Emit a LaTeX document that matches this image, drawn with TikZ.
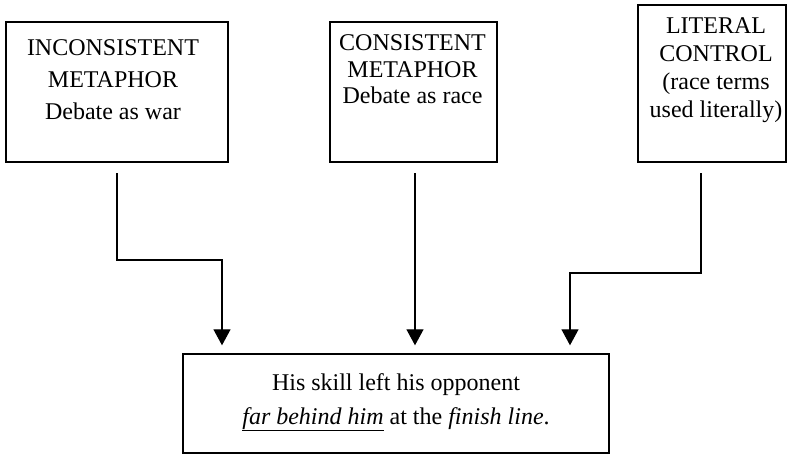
\documentclass[tikz,border=0pt]{standalone}
\usepackage{fontspec}
\setmainfont{Liberation Serif}
\usetikzlibrary{arrows.meta,calc}
\begin{document}
\begin{tikzpicture}[x=1pt,y=-1pt,
  box/.style={draw,line width=1.4pt,inner sep=0pt},
  txt/.style={align=center,font=\fontsize{24}{32}\selectfont,inner sep=0pt,anchor=north},
  arr/.style={line width=1.3pt,-{Triangle[width=17pt,length=16pt]},shorten >=8pt}]
\useasboundingbox (0,0) rectangle (788,455);
\node[box,minimum width=222pt,minimum height=140pt] (b1) at (117,92) {};
\node[box,minimum width=167pt,minimum height=140pt] (b2) at (413.5,92) {};
\node[box,minimum width=148pt,minimum height=157pt] (b3) at (712,83.5) {};
\node[box,minimum width=426pt,minimum height=99pt] (bot) at (396,403.5) {};
\node[txt] (t1) at (113,39.5) {INCONSISTENT\\METAPHOR\\Debate as war};
\node[txt,font=\fontsize{24}{26.5}\selectfont] (t2) at (412.5,34.5) {CONSISTENT\\METAPHOR\\Debate as race};
\node[txt,font=\fontsize{24}{28}\selectfont] (t3) at (716,17.5) {LITERAL\\CONTROL\\(race terms\\used literally)};
\node[txt,font=\fontsize{24}{34}\selectfont] (t4) at (396,373) {His skill left his opponent\\\underline{\textit{far behind him}} at the \textit{finish line}.};
\coordinate (s1) at (117,173);
\coordinate (s2) at (415,173);
\coordinate (s3) at (701,173);
\coordinate (e1) at (222,0 |- bot.north);
\coordinate (e2) at (s2 |- bot.north);
\coordinate (e3) at (570,0 |- bot.north);
\draw[arr] (s1) -- (s1 |- 0,260) -| (e1);
\draw[arr] (s2) -- (e2);
\draw[arr] (s3) -- (s3 |- 0,273) -| (e3);
\end{tikzpicture}
\end{document}
